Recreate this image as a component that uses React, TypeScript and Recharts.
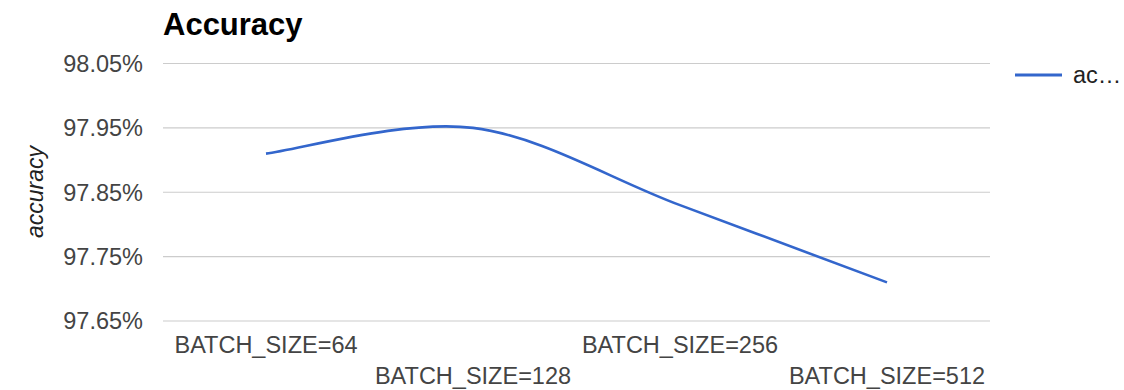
import React from "react";
import {
  CartesianGrid,
  Label,
  Legend,
  Line,
  LineChart,
  XAxis,
  YAxis,
} from "recharts";

const batchSizes = ["BATCH_SIZE=64", "BATCH_SIZE=128", "BATCH_SIZE=256", "BATCH_SIZE=512"];
const accuracy = [97.91, 97.95, 97.83, 97.71];
const yTicks = [97.65, 97.75, 97.85, 97.95, 98.05];

const data = batchSizes.map((name, i) => ({ name, accuracy: accuracy[i] }));

const FONT = "'Liberation Sans', Arial, sans-serif";
const LINE_COLOR = "#3366cc";

// catmull-rom style smoothing (like google's "function" curve), passed as a d3 curve factory
const smoothCurve = (context: any) => {
  let pts: [number, number][] = [];
  return {
    areaStart() {},
    areaEnd() {},
    lineStart() {
      pts = [];
    },
    lineEnd() {
      const n = pts.length;
      if (!n) return;
      context.moveTo(pts[0][0], pts[0][1]);
      for (let i = 0; i < n - 1; i++) {
        const p0 = pts[Math.max(i - 1, 0)];
        const p1 = pts[i];
        const p2 = pts[i + 1];
        const p3 = pts[Math.min(i + 2, n - 1)];
        context.bezierCurveTo(
          p1[0] + (p2[0] - p0[0]) / 6,
          p1[1] + (p2[1] - p0[1]) / 6,
          p2[0] - (p3[0] - p1[0]) / 6,
          p2[1] - (p3[1] - p1[1]) / 6,
          p2[0],
          p2[1]
        );
      }
    },
    point(x: number, y: number) {
      pts.push([+x, +y]);
    },
  };
};

const StaggeredTick = (props: any) => {
  const { x, y, payload, index } = props;
  const dy = index % 2 === 0 ? 32 : 63;
  return (
    <text
      x={x}
      y={y + dy}
      textAnchor="middle"
      fill="#444"
      fontSize={23.5}
      fontFamily={FONT}
    >
      {payload.value}
    </text>
  );
};

const LegendContent = () => (
  <svg width={110} height={30}>
    <line x1={0} y1={13} x2={47} y2={13} stroke={LINE_COLOR} strokeWidth={3} />
    <text x={58} y={21} fontSize={23.5} fontFamily={FONT} fill="#222">
      ac…
    </text>
  </svg>
);

const App: React.FC = () => {
  return (
    <div style={{ position: "absolute", left: 0, top: 0, width: 1124, height: 390, background: "#fff" }}>
      <div
        style={{
          position: "absolute",
          left: 163,
          top: 9,
          fontFamily: FONT,
          fontWeight: "bold",
          fontSize: 31,
          lineHeight: "31px",
          color: "#000",
        }}
      >
        Accuracy
      </div>
      <LineChart
        width={1124}
        height={390}
        data={data}
        margin={{ top: 63.5, right: 24, bottom: 0, left: 0 }}
      >
        <CartesianGrid horizontal vertical={false} stroke="#ccc" strokeWidth={1.2} />
        <XAxis
          dataKey="name"
          height={69}
          axisLine={false}
          tickLine={false}
          tickSize={0}
          tickMargin={0}
          interval={0}
          padding={{ left: 103, right: 103 }}
          tick={<StaggeredTick />}
        />
        <YAxis
          width={163}
          domain={[97.65, 98.05]}
          ticks={yTicks}
          axisLine={false}
          tickLine={false}
          tickSize={0}
          tickMargin={20}
          tickFormatter={(v: number) => `${v.toFixed(2)}%`}
          tick={{ fill: "#444", fontSize: 23.5, fontFamily: FONT }}
        >
          <Label
            content={() => (
              <text
                x={35}
                y={192}
                transform="rotate(-90 35 192)"
                textAnchor="middle"
                dominantBaseline="central"
                fontSize={23}
                fontStyle="italic"
                fontFamily={FONT}
                fill="#222"
              >
                accuracy
              </text>
            )}
          />
        </YAxis>
        <Legend
          verticalAlign="top"
          align="right"
          layout="vertical"
          wrapperStyle={{ top: 62, left: 1015, width: 110 }}
          content={<LegendContent />}
        />
        <Line
          type={smoothCurve as any}
          dataKey="accuracy"
          stroke={LINE_COLOR}
          strokeWidth={2.6}
          dot={false}
          activeDot={false}
          isAnimationActive={false}
        />
      </LineChart>
    </div>
  );
};

export default App;
